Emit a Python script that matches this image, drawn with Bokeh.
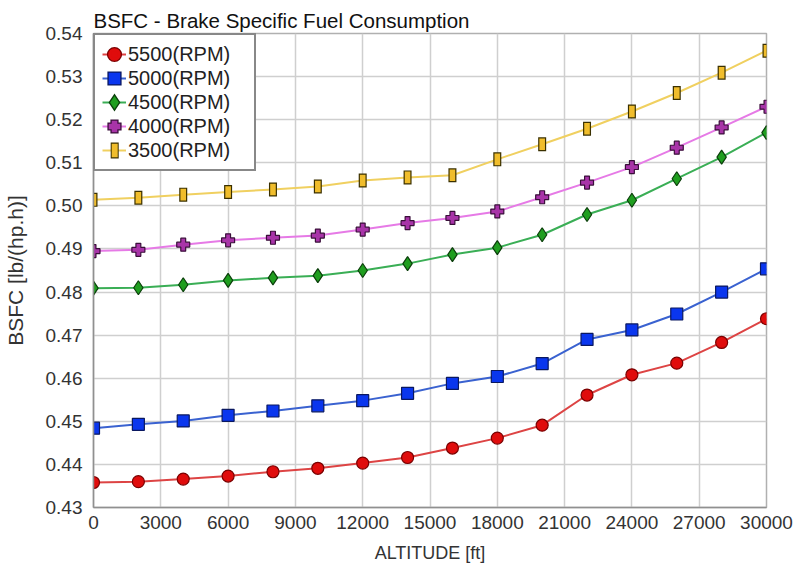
from bokeh.plotting import figure
from bokeh.models import Range1d, FixedTicker, NumeralTickFormatter, Legend, LegendItem
from bokeh.embed import file_html
from bokeh.resources import INLINE

# ---------------- data ----------------
altitude = [0, 2000, 4000, 6000, 8000, 10000, 12000, 14000, 16000,
            18000, 20000, 22000, 24000, 26000, 28000, 30000]

rpm5500 = [0.4358, 0.4360, 0.4366, 0.4373, 0.4383, 0.4391, 0.4403, 0.4416,
           0.4438, 0.4461, 0.4491, 0.4561, 0.4608, 0.4635, 0.4683, 0.4738]
rpm5000 = [0.4484, 0.4493, 0.4501, 0.4514, 0.4524, 0.4536, 0.4548, 0.4565,
           0.4588, 0.4604, 0.4634, 0.4690, 0.4712, 0.4749, 0.4800, 0.4854]
rpm4500 = [0.4809, 0.4810, 0.4817, 0.4827, 0.4833, 0.4838, 0.4850, 0.4866,
           0.4887, 0.4903, 0.4933, 0.4980, 0.5013, 0.5063, 0.5113, 0.5170]
rpm4000 = [0.4895, 0.4898, 0.4910, 0.4920, 0.4926, 0.4931, 0.4945, 0.4960,
           0.4972, 0.4987, 0.5020, 0.5054, 0.5090, 0.5135, 0.5182, 0.5230]
rpm3500 = [0.5014, 0.5019, 0.5026, 0.5032, 0.5038, 0.5045, 0.5059, 0.5066,
           0.5071, 0.5108, 0.5143, 0.5179, 0.5219, 0.5262, 0.5309, 0.5360]

series_labels = ["5500(RPM)", "5000(RPM)", "4500(RPM)", "4000(RPM)", "3500(RPM)"]

x_ticks = [0, 3000, 6000, 9000, 12000, 15000, 18000, 21000, 24000, 27000, 30000]
y_ticks = [0.43, 0.44, 0.45, 0.46, 0.47, 0.48, 0.49, 0.50, 0.51, 0.52, 0.53, 0.54]

title_text = "BSFC - Brake Specific Fuel Consumption"
x_label = "ALTITUDE [ft]"
y_label = "BSFC [lb/(hp.h)]"

FONT = "Liberation Sans"

# ---------------- figure ----------------
p = figure(frame_width=673, frame_height=474,
           min_border_left=85, min_border_right=28,
           min_border_top=33, min_border_bottom=56,
           x_range=Range1d(0, 30000), y_range=Range1d(0.43, 0.54),
           output_backend="svg", toolbar_location=None,
           title=title_text)

p.background_fill_color = "white"
p.border_fill_color = "white"
p.outline_line_color = "#b0b0b0"
p.outline_line_width = 1.5

p.title.text_font = FONT
p.title.text_font_size = "20.5px"
p.title.text_font_style = "normal"
p.title.text_color = "#111111"
p.title.standoff = 4
p.title.offset = 0

p.xaxis.ticker = FixedTicker(ticks=x_ticks)
p.yaxis.ticker = FixedTicker(ticks=y_ticks)
p.yaxis.formatter = NumeralTickFormatter(format="0.00")

for ax in (p.xaxis[0], p.yaxis[0]):
    ax.axis_line_color = "#909090"
    ax.axis_line_width = 1.5
    ax.major_tick_line_color = None
    ax.minor_tick_line_color = None
    ax.major_label_text_font = FONT
    ax.major_label_text_font_size = "19px"
    ax.major_label_text_color = "#333333"
    ax.axis_label_text_font = FONT
    ax.axis_label_text_font_style = "normal"
    ax.axis_label_text_color = "#333333"

p.xaxis.axis_label = x_label
p.yaxis.axis_label = y_label
p.xaxis.axis_label_text_font_size = "18px"
p.yaxis.axis_label_text_font_size = "21px"
p.xaxis.major_label_standoff = 2
p.yaxis.major_label_standoff = 5
p.xaxis.axis_label_standoff = 11
p.yaxis.axis_label_standoff = 16

p.grid.grid_line_color = "#cfcfcf"
p.grid.grid_line_width = 1.5

# ---------------- series (plot) ----------------
# 5500 - red circles
l1 = p.line(altitude, rpm5500, line_color="#dd4444", line_width=2)
m1 = p.scatter(altitude, rpm5500, marker="circle", size=12,
               fill_color="#e00c0c", line_color="#7a0000", line_width=1.2)
# 5000 - blue squares
l2 = p.line(altitude, rpm5000, line_color="#3a62d0", line_width=2)
m2 = p.scatter(altitude, rpm5000, marker="square", size=12,
               fill_color="#0a36ee", line_color="#0a1860", line_width=1.2)
# 4500 - green diamonds
l3 = p.line(altitude, rpm4500, line_color="#3aae55", line_width=2)
m3 = p.scatter(altitude, rpm4500, marker="diamond", size=14,
               fill_color="#1f9e1f", line_color="#0b3f0b", line_width=1.2)
# 4000 - purple crosses
l4 = p.line(altitude, rpm4000, line_color="#e67ae6", line_width=2)
m4 = p.scatter(altitude, rpm4000, marker="plus", size=13,
               fill_color="#a834a8", line_color="#3a0f3a", line_width=1.2)
# 3500 - yellow tall rectangles (dark bar with a yellow bar inside)
l5 = p.line(altitude, rpm3500, line_color="#f0d060", line_width=2)
m5a = p.scatter(altitude, rpm3500, marker="dash", size=8,
                line_color="#3a3000", line_width=14)
m5b = p.scatter(altitude, rpm3500, marker="dash", size=5.6,
                line_color="#f0bd2c", line_width=11.6)

# ---------------- legend-only glyphs (hidden in the plot) ----------------
def legend_pair(marker, fill, dark, inner_lw):
    outer = p.scatter(altitude, rpm5500, marker=marker, fill_color=dark,
                      line_color=dark, line_width=inner_lw + 2.6,
                      line_join="miter", visible=False)
    inner = p.scatter(altitude, rpm5500, marker=marker, fill_color=fill,
                      line_color=fill, line_width=inner_lw,
                      line_join="miter", visible=False)
    return [outer, inner]

lg1 = legend_pair("circle", "#e00c0c", "#7a0000", 3.0)
lg2 = legend_pair("square", "#0a36ee", "#0a1860", 2.0)
lg3 = legend_pair("diamond", "#1f9e1f", "#0b3f0b", 2.0)
lg4 = legend_pair("plus", "#a834a8", "#3a0f3a", 2.0)
lg5 = [
    p.scatter(altitude, rpm3500, marker="dash", size=8, line_color="#3a3000",
              line_width=16, line_dash="0 1 8 100", visible=False),
    p.scatter(altitude, rpm3500, marker="dash", size=8, line_color="#f0bd2c",
              line_width=13.4, line_dash="0 2 6 100", visible=False),
]

legend = Legend(items=[
    LegendItem(label=series_labels[0], renderers=[l1] + lg1),
    LegendItem(label=series_labels[1], renderers=[l2] + lg2),
    LegendItem(label=series_labels[2], renderers=[l3] + lg3),
    LegendItem(label=series_labels[3], renderers=[l4] + lg4),
    LegendItem(label=series_labels[4], renderers=[l5] + lg5),
], location="top_left", margin=0, padding=7, spacing=0,
   glyph_width=24, glyph_height=24, label_height=24,
   label_standoff=2, label_width=119,
   label_text_font=FONT, label_text_font_size="20px", label_text_color="#222222",
   border_line_color="#111111", border_line_width=2,
   background_fill_color="white", background_fill_alpha=1.0)
p.add_layout(legend, "center")

open("out.html", "w").write(file_html(p, INLINE))
